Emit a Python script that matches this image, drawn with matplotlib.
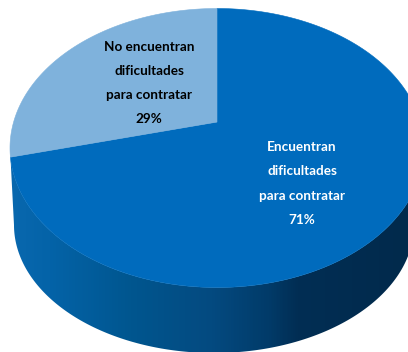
import numpy as np
import matplotlib
matplotlib.use("Agg")
import matplotlib.pyplot as plt
from matplotlib.colors import LinearSegmentedColormap
from matplotlib.patches import Polygon

categories = ["Encuentran\ndificultades\npara contratar", "No encuentran\ndificultades\npara contratar"]
values = [71, 29]
text_colors = ["white", "black"]
slice_colors = ["#006bbd", "#7fb2dc"]

W, H = 408, 352
CX, CY, RX, RY = 217.0, 148.0, 207.0, 139.5
LCX, LCY, LRX, LRY = 214.0, 225.0, 200.0, 128.0
A = 0.186  # perspective shift of the pie centre


def project(theta):
    """Angle clockwise from the top of the pie -> picture coordinates."""
    u, v = np.sin(theta), np.cos(theta)
    d = 1 + A * v
    return CX + RX * u * np.sqrt(1 - A * A) / d, CY - RY * (v + A) / d


fig = plt.figure(figsize=(W / 100, H / 100), dpi=100, facecolor="white")
ax = fig.add_axes([0, 0, 1, 1])
ax.set_xlim(0, W)
ax.set_ylim(H, 0)
ax.axis("off")

# side wall of the disc
t = np.linspace(np.pi, 0, 300)
top_x, top_y = CX + RX * np.cos(t), CY + RY * np.sin(t)
t2 = np.linspace(0, np.pi, 300)
low_x, low_y = LCX + LRX * np.cos(t2), LCY + LRY * np.sin(t2)
wall = Polygon(np.column_stack([np.r_[top_x, low_x], np.r_[top_y, low_y]]),
               closed=True, fc="none", ec="none", transform=ax.transData)
ax.add_patch(wall)
cmap = LinearSegmentedColormap.from_list(
    "wall",
    [(0.0, "#0a69b0"), (0.12, "#0463a8"), (0.32, "#00568f"), (0.52, "#044a80"),
     (0.66, "#013b69"), (0.73, "#012e54"), (1.0, "#012a4c")])
img = ax.imshow(np.linspace(0, 1, 408)[None, :], extent=(0, W, H, 0), cmap=cmap,
                vmin=0, vmax=1, aspect="auto", zorder=1)
img.set_clip_path(wall)
ax.set_xlim(0, W)
ax.set_ylim(H, 0)

# top face, one wedge per value, clockwise from the top of the pie
total = sum(values)
start = 0.0
for val, col in zip(values, slice_colors):
    sweep = 2 * np.pi * val / total
    th = np.linspace(start, start + sweep, 400)
    x, y = project(th)
    ax.fill(np.r_[CX, x], np.r_[CY - RY * A, y], color=col, lw=0.4, zorder=2)
    start += sweep

# labels
label_x = [302, 149]
label_y = [183.5, 83]
for cat, val, col, lx, ly in zip(categories, values, text_colors, label_x, label_y):
    ax.text(lx, ly, f"{cat}\n{val}%", color=col, ha="center", va="center",
            multialignment="center", fontsize=9.7, fontweight="bold",
            family=["Lato", "DejaVu Sans"],
            linespacing=2.22, zorder=3)

fig.savefig("out.png", dpi=100, facecolor="white")
